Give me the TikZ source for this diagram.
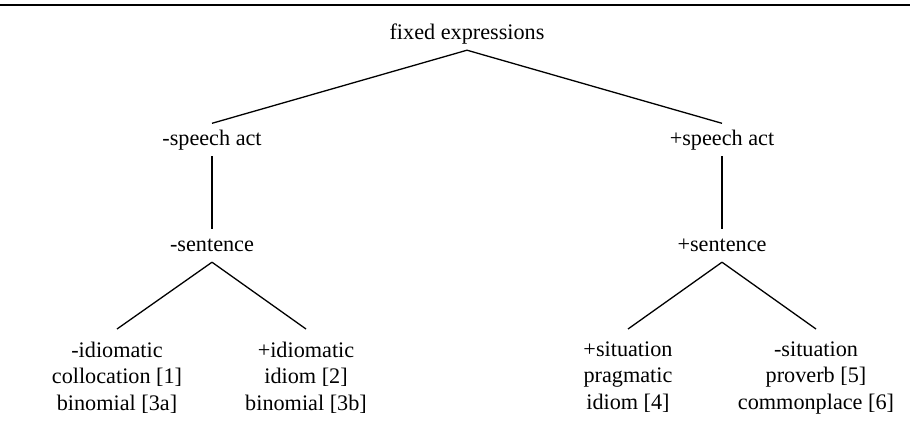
\documentclass[tikz,border=0pt]{standalone}
\usepackage{fontspec}
\setmainfont{Liberation Serif}
\usetikzlibrary{positioning}

\begin{document}
\begin{tikzpicture}[x=1bp,y=-1bp,
    feat/.style={font=\fontsize{22.3pt}{26.5bp}\selectfont, inner sep=0pt,
        inner ysep=6bp, text height=15.5bp, text depth=5bp, anchor=base},
    leaf/.style={font=\fontsize{22.3pt}{26.5bp}\selectfont, align=center,
        inner xsep=0pt, inner ysep=12.5bp, anchor=north},
    branch/.style={line width=1.3bp}]
    \useasboundingbox (0,0) rectangle (910,430);

    % Rule above the tree
    \draw[line width=2bp] (0,4.5) -- (910,4.5);

    % Feature nodes
    \node[feat] (root) at (467,39) {fixed expressions};
    \node[feat] (nspeech) at (212,145) {-speech act};
    \node[feat] (pspeech) at (722,145) {+speech act};
    \node[feat] (nsent) at (212,251) {-sentence};
    \node[feat] (psent) at (722,251) {+sentence};

    % Leaves
    \node[leaf] (nidiom) at (117,329) {-idiomatic\\collocation [1]\\binomial [3a]};
    \node[leaf] (pidiom) at (306,329) {+idiomatic\\idiom [2]\\binomial [3b]};
    \node[leaf] (psit) at (628,329) {+situation\\pragmatic\\idiom [4]};
    \node[leaf] (nsit) at (816,329) {-situation\\proverb [5]\\commonplace [6]};

    % Branches
    \draw[branch] (root.south) -- (nspeech.north);
    \draw[branch] (root.south) -- (pspeech.north);
    \draw[branch] (nspeech.south) -- (nsent.north);
    \draw[branch] (pspeech.south) -- (psent.north);
    \foreach \parent/\child in {nsent/nidiom, nsent/pidiom, psent/psit, psent/nsit} {
        \draw[branch] (\parent.south) -- (\child.north);
    }
\end{tikzpicture}
\end{document}
